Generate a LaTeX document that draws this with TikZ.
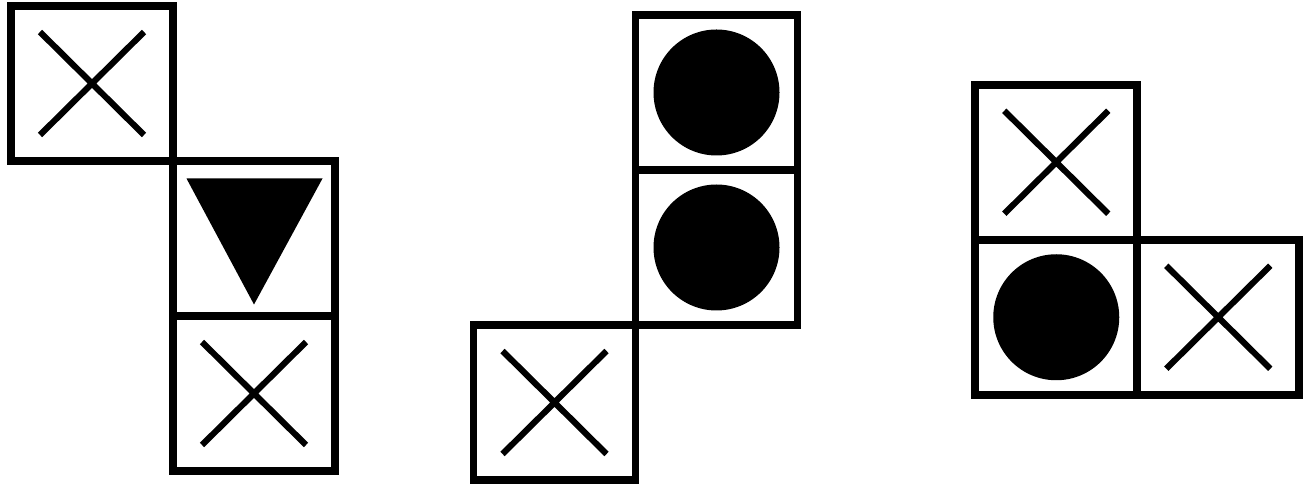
\documentclass[tikz,border=0pt]{standalone}
\usetikzlibrary{positioning}

\tikzset{
  cell/.style={draw,line width=4.3pt,minimum width=3.24cm,minimum height=3.1cm,
    inner sep=0pt,outer sep=0pt},
  crossmark/.pic={\draw[line width=3.5pt] (-1.04,-1.03) -- (1.04,1.03) (-1.04,1.03) -- (1.04,-1.03);},
  dotmark/.pic={\fill (0,0) circle (1.26);},
  wedgemark/.pic={\fill (-1.35,1.2) -- (1.37,1.2) -- (0,-1.32) -- cycle;}
}

\begin{document}
\begin{tikzpicture}[x=1cm,y=1cm]
\path[use as bounding box] (0,0) rectangle (26.12,9.70);
% left group
\node[cell] (A) at (1.84,8.03) {};
\node[cell,below right=0pt of A] (B) {};
\node[cell,below=0pt of B] (C) {};
\pic at (A) {crossmark};
\pic at (B) {wedgemark};
\pic at (C) {crossmark};
% middle group
\node[cell] (D) at (14.33,7.85) {};
\node[cell,below=0pt of D] (E) {};
\node[cell,below left=0pt of E] (F) {};
\pic at (D) {dotmark};
\pic at (E) {dotmark};
\pic at (F) {crossmark};
% right group
\node[cell] (G) at (21.125,6.455) {};
\node[cell,below=0pt of G] (H) {};
\node[cell,right=0pt of H] (I) {};
\pic at (G) {crossmark};
\pic at (H) {dotmark};
\pic at (I) {crossmark};
\end{tikzpicture}
\end{document}
